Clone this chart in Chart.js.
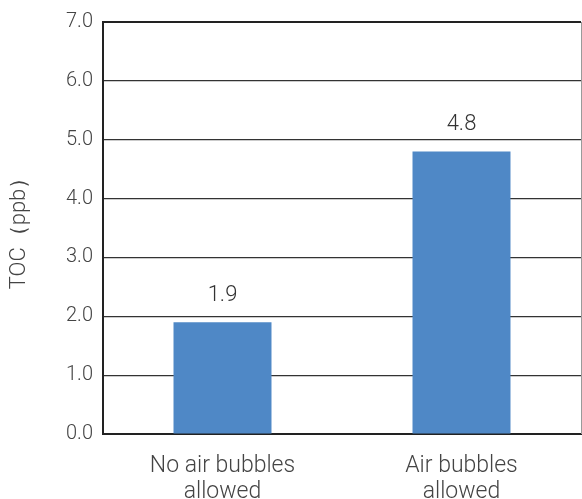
<!DOCTYPE html>
<html>
<head>
<meta charset="utf-8">
<script src="https://cdn.jsdelivr.net/npm/chart.js@4/dist/chart.umd.min.js"></script>
<style>
  html, body { margin: 0; padding: 0; background: #fff; }
  #wrap { width: 582px; height: 499px; }
</style>
</head>
<body>
<div id="wrap"><canvas id="c" width="582" height="499"></canvas></div>
<script>
// TOC measured with and without air bubbles
const categories = [["No air bubbles", "allowed"], ["Air bubbles", "allowed"]];
const tocValues = [1.9, 4.8];
const yTicks = [0, 1, 2, 3, 4, 5, 6, 7];
const yTitle = "TOC（ppb）";

const FONT = "Roboto, 'Liberation Sans', sans-serif";

// Value labels above each bar, plus a thin right-hand frame line
const valueLabels = {
  id: 'valueLabels',
  afterDatasetsDraw(chart) {
    const ctx = chart.ctx;
    const meta = chart.getDatasetMeta(0);
    ctx.save();
    ctx.fillStyle = '#333';
    ctx.font = '300 22px ' + FONT;
    ctx.textAlign = 'center';
    ctx.textBaseline = 'alphabetic';
    meta.data.forEach((bar, i) => {
      ctx.fillText(chart.data.datasets[0].data[i].toFixed(1), bar.x, bar.y - 21);
    });
    const a = chart.chartArea;
    ctx.strokeStyle = '#9a9a9a';
    ctx.lineWidth = 1;
    ctx.beginPath();
    ctx.moveTo(a.right + 0.5, a.top);
    ctx.lineTo(a.right + 0.5, a.bottom);
    ctx.stroke();
    ctx.restore();
  }
};

new Chart(document.getElementById('c'), {
  type: 'bar',
  data: {
    labels: categories,
    datasets: [{
      data: tocValues,
      backgroundColor: '#4f88c6',
      barPercentage: 0.41,
      categoryPercentage: 1.0
    }]
  },
  options: {
    responsive: false,
    animation: false,
    devicePixelRatio: 1,
    layout: { padding: { top: 19, right: 1, left: 0, bottom: 0 } },
    plugins: { legend: { display: false }, tooltip: { enabled: false } },
    scales: {
      x: {
        grid: { display: false },
        border: { color: '#222', width: 2 },
        ticks: {
          color: '#444',
          font: { family: FONT, size: 23, weight: '300', lineHeight: 1.1 },
          padding: 12,
          maxRotation: 0
        },
        afterFit(s) { s.height = 65; }
      },
      y: {
        min: 0,
        max: 7,
        afterBuildTicks(s) { s.ticks = yTicks.map(v => ({ value: v })); },
        grid: {
          drawTicks: false,
          color: ctx => ctx.tick && ctx.tick.value === 7 ? '#222' : '#333',
          lineWidth: ctx => ctx.tick && ctx.tick.value === 7 ? 2 : 1.2
        },
        border: { color: '#222', width: 2 },
        ticks: {
          color: '#444',
          font: { family: FONT, size: 20, weight: '300' },
          padding: 10,
          callback: v => Number(v).toFixed(1)
        },
        title: {
          display: true,
          text: yTitle,
          color: '#444',
          font: { family: FONT, size: 22, weight: '300' },
          padding: { top: 6, bottom: 22 }
        },
        afterFit(s) { s.width = 103; }
      }
    }
  },
  plugins: [valueLabels]
});
</script>
</body>
</html>
